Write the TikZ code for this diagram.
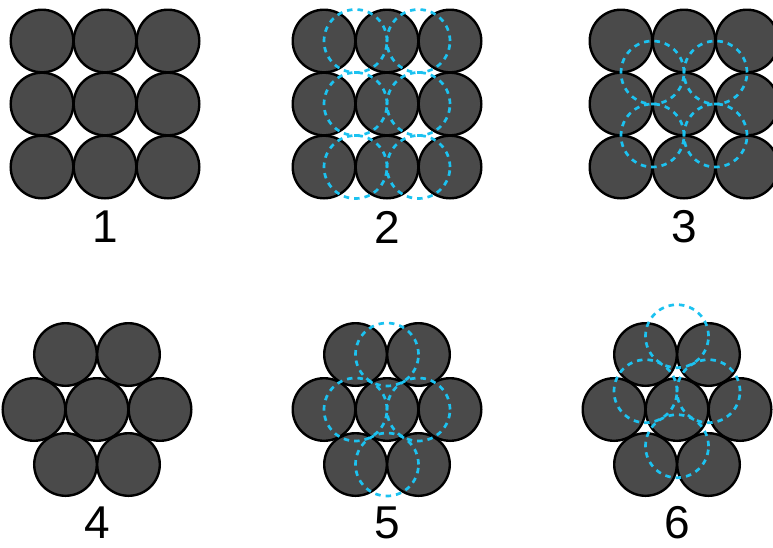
\documentclass[tikz,border=0pt]{standalone}
\usepackage{fontspec}
\setmainfont{Liberation Sans}
\usetikzlibrary{positioning}

\definecolor{ballgray}{RGB}{74,74,74}
\definecolor{sitecyan}{RGB}{28,194,240}
\tikzset{
  ball/.style={draw=black, fill=ballgray, line width=2.4pt},
  site/.style={draw=sitecyan, line width=2.7pt, dash pattern=on 5.5pt off 5pt},
  num/.style={font=\fontsize{46}{46}\selectfont, inner sep=0pt}
}

\begin{document}
\begin{tikzpicture}[x=1pt, y=-1pt]
  \useasboundingbox (0,0) rectangle (773,547);

  % square layers
  \foreach \ox in {42, 324, 621} {
    \foreach \i in {0,1,2} {
      \foreach \j in {0,1,2} {
        \draw[ball] (\ox+63*\i, 41+63*\j) circle (31.3pt);
      }
    }
  }
  % hexagonal layers
  \foreach \ox in {34, 324, 614} {
    \foreach \i in {0,1} {
      \draw[ball] (\ox+31.5+63*\i, 354.5) circle (31.3pt);
    }
    \foreach \i in {0,1,2} {
      \draw[ball] (\ox+63*\i, 409.5) circle (31.3pt);
    }
    \foreach \i in {0,1} {
      \draw[ball] (\ox+31.5+63*\i, 464.5) circle (31.3pt);
    }
  }

  % sites of the next layer
  \foreach \i in {0,1} {
    \foreach \j in {0,1,2} {
      \draw[site] (355.5+63*\i, 41+63*\j) circle (31.5pt);
    }
    \foreach \j in {0,1} {
      \draw[site] (652.5+63*\i, 72.5+63*\j) circle (31.5pt);
    }
  }
  \foreach \p in {(387,354.5), (355.5,409.5), (418.5,409.5), (387,464.5)}
    \draw[site] \p circle (31.5pt);
  \foreach \p in {(677,336.2), (645.5,391.2), (708.5,391.2), (677,446.2)}
    \draw[site] \p circle (31.5pt);

  % labels
  \node[num] (L1) at (105, 227) {1};
  \node[num] (L2) at (387, 227) {2};
  \node[num] (L3) at (684, 227) {3};
  \node[num] (L4) at (97, 523) {4};
  \node[num] (L5) at (387, 523) {5};
  \node[num] (L6) at (677, 523) {6};
\end{tikzpicture}
\end{document}
